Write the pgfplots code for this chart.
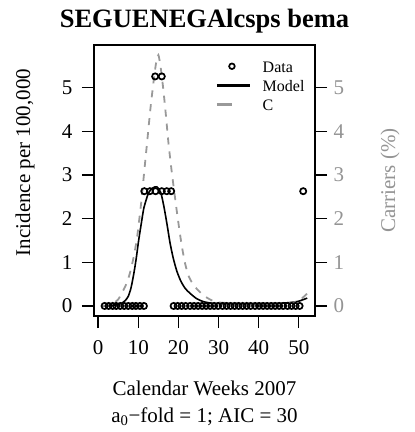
\documentclass[border=0pt]{standalone}
\usepackage{fontspec}
\setmainfont{Liberation Serif}
\usepackage{pgfplots}
\pgfplotsset{compat=1.18}
\definecolor{cgray}{gray}{0.6}
\definecolor{tgray}{gray}{0.58}

\newcommand{\fs}[1]{\fontsize{#1bp}{1.2\dimexpr#1bp\relax}\selectfont}

\begin{document}
\begin{tikzpicture}
\begin{axis}[
    name=main,
    scale only axis, width=221bp, height=271bp,
    xmin=-1.04, xmax=54.04, ymin=-0.23, ymax=5.98,
    axis line style={line width=1.5bp},
    tick align=outside, major tick length=12bp,
    tick style={line width=1.4bp, black},
    xtick pos=lower, ytick pos=left,
    xtick={0,10,...,50}, ytick={0,1,...,5},
    ticklabel style={font=\fs{21}},
    /pgf/number format/assume math mode=true,
    xticklabel style={yshift=-9bp},
    yticklabel style={xshift=-6bp},
    legend cell align=left,
    legend style={at={(0.534,0.947)}, anchor=north west, draw=none, fill=none,
        font=\fs{16}, row sep=4bp, column sep=11bp,
        nodes={inner xsep=0bp, inner ysep=0bp, text height=11bp, text depth=4bp}},
]
\addplot[only marks, mark=o, mark size=3.1bp, line width=1.7bp, black,
    legend image code/.code={\draw[black, solid, line width=1.7bp] (15bp,0.28em) circle (2.8bp);}]
coordinates {
(1.6,0)(2.6,0)(3.6,0)(4.5,0)(5.5,0)(6.5,0)(7.5,0)(8.5,0)(9.4,0)(10.4,0)(11.4,0)
(11.5,2.63)(12.9,2.63)(14.3,2.63)(15.85,2.63)(17.1,2.63)(18.2,2.63)
(14.2,5.26)(15.85,5.26)
(18.8,0)(19.8,0)(20.8,0)(21.8,0)(22.9,0)(23.9,0)(24.9,0)(25.9,0)(26.9,0)(27.9,0)
(28.9,0)(29.9,0)(31.0,0)(32.0,0)(33.0,0)(34.0,0)(35.0,0)(36.0,0)(37.0,0)(38.0,0)
(39.1,0)(40.1,0)(41.1,0)(42.1,0)(43.1,0)(44.1,0)(45.1,0)(46.1,0)(47.2,0)(48.2,0)
(49.2,0)(50.2,0)
(51.1,2.63)
};
\addlegendentry{Data}
\addplot[black, line width=1.6bp, smooth, tension=0.4,
    legend image code/.code={\draw[black, solid, line width=3.5bp] (0,0.28em) -- (33bp,0.28em);}]
coordinates {
(1.0,0)(3,0.01)(5,0.03)(5.8,0.06)(6.7,0.12)(7.5,0.22)(8.2,0.42)(8.9,0.75)(9.5,1.1)
(10.1,1.51)(10.8,1.92)(11.4,2.25)(12.5,2.58)(13.5,2.7)(14.6,2.73)(15.6,2.6)
(16.4,2.27)(17.2,1.85)(17.9,1.45)(18.7,1.1)(19.6,0.8)(20.6,0.57)(21.7,0.4)
(22.9,0.29)(24.5,0.17)(26.2,0.1)(28.5,0.06)(32,0.05)(40,0.05)(45,0.06)(48,0.08)
(50,0.11)(52.1,0.18)
};
\addlegendentry{Model}
\addplot[cgray, line width=1.8bp, dash pattern=on 7bp off 7bp, smooth, tension=0.4,
    legend image code/.code={\draw[cgray, solid, line width=3.5bp] (0,0.28em) -- (15bp,0.28em);}]
coordinates {
(1.0,0)(2.5,0.02)(3.75,0.06)(5,0.15)(5.8,0.28)(7,0.5)(7.9,0.75)(8.8,1.1)(9.6,1.51)
(10.2,1.95)(10.8,2.43)(11.5,3.1)(12.25,3.8)(13,4.5)(13.75,5.1)(14.4,5.55)(15,5.75)
(15.6,5.45)(16.25,4.95)(16.9,4.35)(17.5,3.75)(18.3,3.1)(19.2,2.45)(20,1.9)
(20.8,1.4)(21.6,1.0)(22.4,0.72)(23.3,0.55)(24.5,0.4)(25.8,0.28)(27.1,0.19)
(28.5,0.12)(30,0.08)(35,0.06)(45,0.06)(48.75,0.08)(50.5,0.15)(52.1,0.29)
};
\addlegendentry{C}
\end{axis}
\begin{axis}[
    at={(main.south west)}, anchor=south west,
    scale only axis, width=221bp, height=271bp,
    xmin=-1.04, xmax=54.04, ymin=-0.23, ymax=5.98,
    hide x axis, axis line style={draw=none},
    tick align=outside, major tick length=12bp,
    tick style={line width=1.4bp, black},
    ytick pos=right, ytick={0,1,...,5},
    ticklabel style={font=\fs{21}, text=tgray},
    /pgf/number format/assume math mode=true,
    yticklabel style={xshift=3bp},
]
\addplot[draw=none] coordinates {(0,0)};
\end{axis}
\node[anchor=base, font=\bfseries\fs{26.5}] at ([yshift=17bp]main.north) {SEGUENEGAlcsps bema};
\node[anchor=base, font=\fs{21}] at ([yshift=-79bp]main.south) {Calendar Weeks 2007};
\node[anchor=base, font=\fs{21}] at ([yshift=-106bp]main.south) {a\textsubscript{0}−fold = 1; AIC = 30};
\node[rotate=90, font=\fs{21}] at ([xshift=-69bp, yshift=18bp]main.west) {Incidence per 100,000};
\node[rotate=90, font=\fs{21}, text=tgray] at ([xshift=75bp]main.east) {Carriers (\%)};
\path[use as bounding box] ([xshift=-94bp,yshift=-116bp]main.south west) rectangle ([xshift=100bp,yshift=45bp]main.north east);
\end{tikzpicture}
\end{document}
